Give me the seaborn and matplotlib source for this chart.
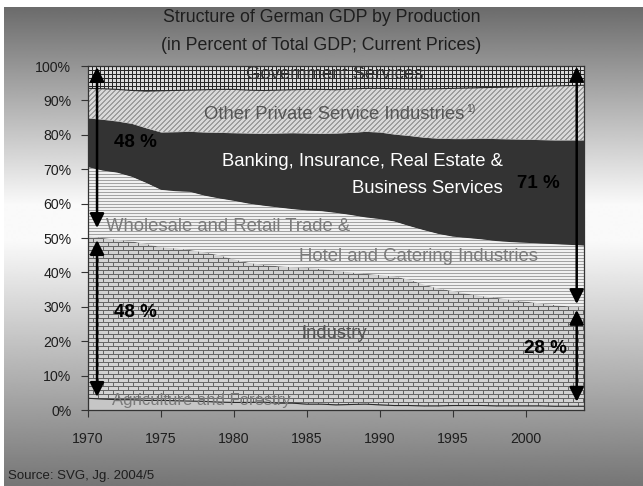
import numpy as np
import matplotlib
matplotlib.use("Agg")
import matplotlib.pyplot as plt
import seaborn as sns
from matplotlib.patches import ArrowStyle

# Shares of gross value added by sector (percent of total GDP, current prices)
years = list(range(1970, 2005))
agriculture = [3.4, 3.2, 3.0, 3.0, 2.8, 2.8, 2.7, 2.6, 2.5, 2.3,
               2.2, 2.2, 2.3, 2.0, 2.0, 1.7, 1.7, 1.5, 1.6, 1.7,
               1.5, 1.3, 1.3, 1.2, 1.2, 1.3, 1.3, 1.3, 1.2, 1.2,
               1.2, 1.2, 1.1, 1.1, 1.1]
industry = [47.1, 46.8, 46.5, 46.0, 45.5, 44.5, 44.3, 43.9, 43.3, 42.7,
            41.6, 40.6, 39.9, 39.8, 39.5, 39.6, 39.3, 39.0, 38.4, 37.9,
            37.7, 37.5, 36.6, 35.3, 34.1, 33.3, 32.5, 31.8, 31.4, 30.8,
            30.3, 29.8, 29.4, 29.0, 28.7]
trade_hotel = [20.1, 19.6, 19.5, 18.8, 17.7, 16.7, 16.6, 16.9, 16.5, 16.5,
               17.0, 17.2, 17.2, 17.1, 16.9, 16.7, 16.8, 16.8, 16.7, 16.4,
               16.3, 16.0, 15.6, 15.8, 15.9, 15.8, 16.2, 16.5, 16.5, 16.8,
               17.1, 17.4, 17.7, 17.9, 18.0]
finance_business = [14.3, 14.9, 15.0, 15.5, 16.0, 16.8, 17.3, 17.6, 18.5, 19.2,
                    19.8, 20.5, 21.0, 21.6, 22.2, 22.5, 22.6, 23.2, 24.0, 25.0,
                    25.3, 25.4, 26.3, 27.0, 27.8, 28.5, 28.9, 29.4, 29.8, 30.0,
                    30.1, 30.2, 30.3, 30.5, 30.7]
other_private = [8.6, 8.9, 9.2, 9.6, 10.7, 12.0, 12.0, 12.0, 12.3, 12.5,
                 12.6, 12.5, 12.5, 12.5, 12.5, 12.7, 12.8, 12.6, 12.6, 12.5,
                 12.7, 13.2, 13.5, 14.0, 14.4, 14.6, 14.7, 14.7, 14.9, 15.1,
                 15.3, 15.5, 15.7, 15.8, 15.9]
government = [6.5, 6.6, 6.8, 7.1, 7.3, 7.2, 7.1, 7.0, 6.9, 6.8,
              6.8, 7.0, 7.1, 7.0, 6.9, 6.8, 6.8, 6.9, 6.7, 6.5,
              6.5, 6.6, 6.7, 6.7, 6.6, 6.5, 6.4, 6.3, 6.2, 6.1,
              6.0, 5.9, 5.8, 5.7, 5.6]

y_ticks = list(range(0, 101, 10))
y_tick_labels = [f"{v}%" for v in y_ticks]
x_ticks = list(range(1970, 2001, 5))

# Double arrows: x position, start and end (percent)
arrow_x = [1970.62, 1970.62, 2003.5, 2003.5]
arrow_from = [99.7, 49.4, 99.8, 29.1]
arrow_to = [52.9, 3.8, 30.8, 2.4]

# Share call-outs
pct_labels = ["48 %", "48 %", "71 %", "28 %"]
pct_x = [1973.23, 1973.23, 2000.84, 2001.39]
pct_y = [77.9, 28.2, 65.8, 18.0]

sns.set_style("ticks")
plt.rcParams["font.family"] = ["Liberation Sans", "DejaVu Sans"]

FW, FH = 643, 486
fig = plt.figure(figsize=(FW / 100, FH / 100), dpi=100, facecolor="white")

# Slide background: vertical grey gradient (dark - light - dark)
bg = fig.add_axes([4 / FW, 0, 1 - 4 / FW, 1 - 7 / FH], zorder=0)
ypix = np.arange(7, FH)
shade = np.interp(ypix, [7, 205, 240, FH], [0.42, 0.98, 0.98, 0.46])
bg.imshow(shade[:, None], cmap="gray", vmin=0, vmax=1, aspect="auto",
          extent=(0, 1, 0, 1), interpolation="bilinear")
bg.axis("off")

# Plot area
L, R, T, B = 88, 584, 66, 410
ax = fig.add_axes([L / FW, 1 - B / FH, (R - L) / FW, (B - T) / FH], zorder=1)
ax.patch.set_alpha(0)

series = [agriculture, industry, trade_hotel, finance_business,
          other_private, government]
face = ["#c6c6c6", "#a8a8a8", "#d8d8d8", "#333333", "#b8b8b8", "#888888"]
polys = ax.stackplot(years, *series, colors=face, linewidth=0, zorder=1)

# Fill textures in device pixels
hp, wp = B - T, R - L
r, c = np.mgrid[0:hp, 0:wp]
grid_tex = np.where((r % 4 == 0) | (c % 4 == 0), 0.16, 0.86)
diag_tex = np.where(((r + c) % 5) < 2, 0.62, 0.85)
hline_tex = np.where(r % 3 == 0, 0.64, 0.94)
brick_tex = np.where((r % 4 == 0) | (((c + 5 * ((r // 4) % 2)) % 10) == 0),
                     0.40, 0.83)

for idx, tex in [(1, brick_tex), (2, hline_tex), (4, diag_tex), (5, grid_tex)]:
    im = ax.imshow(tex, cmap="gray", vmin=0, vmax=1,
                   extent=(years[0], years[-1], 0, 100), aspect="auto",
                   interpolation="nearest", zorder=2)
    im.set_clip_path(polys[idx].get_paths()[0], transform=ax.transData)

# Thin edges at the agriculture top and government bottom
cum = np.cumsum(np.array(series), axis=0)
sns.lineplot(x=years, y=cum[0], color="#2a2a2a", linewidth=0.8, ax=ax, zorder=3)
sns.lineplot(x=years, y=cum[4], color="#2a2a2a", linewidth=0.8, ax=ax, zorder=3)

ax.set_xlim(years[0], years[-1])
ax.set_ylim(0, 100)
ax.set_xlabel("")
ax.set_ylabel("")
ax.set_xticks(x_ticks)
ax.set_xticks(years, minor=True)
ax.set_yticks(y_ticks)
ax.set_yticklabels(y_tick_labels)
ax.tick_params(axis="x", which="major", direction="out", length=5, width=0.8,
               color="#333333", pad=11, labelsize=10.2, labelcolor="#1e1e1e",
               bottom=True)
ax.tick_params(axis="x", which="minor", direction="in", length=3, width=0.8,
               color="#333333", bottom=True)
ax.tick_params(axis="y", which="major", direction="out", length=5, width=0.8,
               color="#333333", pad=7, labelsize=10.2, labelcolor="#1e1e1e",
               left=True)
ax.tick_params(axis="y", which="minor", left=False)
for s in ax.spines.values():
    s.set_visible(True)
    s.set_color("#333333")
    s.set_linewidth(0.9)
    s.set_zorder(4)

# Sector labels
LBL = 13.3
ax.text(1986.9, 97.4, "Government Services", ha="center", va="center",
        fontsize=LBL, color="#333333", zorder=5)
t_other = ax.text(1977.97, 86.0, "Other Private Service Industries", ha="left",
                  va="center", fontsize=LBL, color="#555555", zorder=5)
ax.annotate("1)", xy=(1.0, 1.0), xycoords=t_other, xytext=(1, 1),
            textcoords="offset points", ha="left", va="top", fontsize=7.5,
            color="#555555", zorder=5)
ax.text(1998.43, 72.1, "Banking, Insurance, Real Estate &", ha="right",
        va="center", fontsize=LBL, color="white", zorder=5)
ax.text(1998.43, 64.3, "Business Services", ha="right", va="center",
        fontsize=LBL, color="white", zorder=5)
ax.text(1971.24, 53.4, "Wholesale and Retail Trade &", ha="left", va="center",
        fontsize=LBL, color="#7a7a7a", zorder=5)
ax.text(2000.84, 44.5, "Hotel and Catering Industries", ha="right",
        va="center", fontsize=LBL, color="#7a7a7a", zorder=5)
ax.text(1986.9, 22.1, "Industry", ha="center", va="center", fontsize=LBL,
        color="#555555", zorder=5)
ax.text(1971.65, 2.9, "Agriculture and Forestry", ha="left", va="center",
        fontsize=12, color="#7a7a7a", zorder=5)

# Arrows and share call-outs
for x, y0, y1 in zip(arrow_x, arrow_from, arrow_to):
    ax.annotate("", xy=(x, y1), xytext=(x, y0),
                arrowprops=dict(arrowstyle=ArrowStyle("<|-|>", head_length=0.86,
                                                      head_width=0.43),
                                mutation_scale=10, color="black", lw=1.8,
                                shrinkA=0, shrinkB=0), zorder=6)
for lab, x, y in zip(pct_labels, pct_x, pct_y):
    ax.text(x, y, lab, ha="center", va="center", fontsize=13.5,
            fontweight="bold", color="black", zorder=6)

# Titles and source
fig.text(0.5, 1 - 18 / FH, "Structure of German GDP by Production",
         ha="center", va="center", fontsize=12.8, color="#1e1e1e")
fig.text(0.5, 1 - 45 / FH, "(in Percent of Total GDP; Current Prices)",
         ha="center", va="center", fontsize=12.8, color="#1e1e1e")
fig.text(8 / FW, 1 - 476 / FH, "Source: SVG, Jg. 2004/5", ha="left",
         va="center", fontsize=9.5, color="#1e1e1e")

fig.savefig("out.png", dpi=100, facecolor="white")
